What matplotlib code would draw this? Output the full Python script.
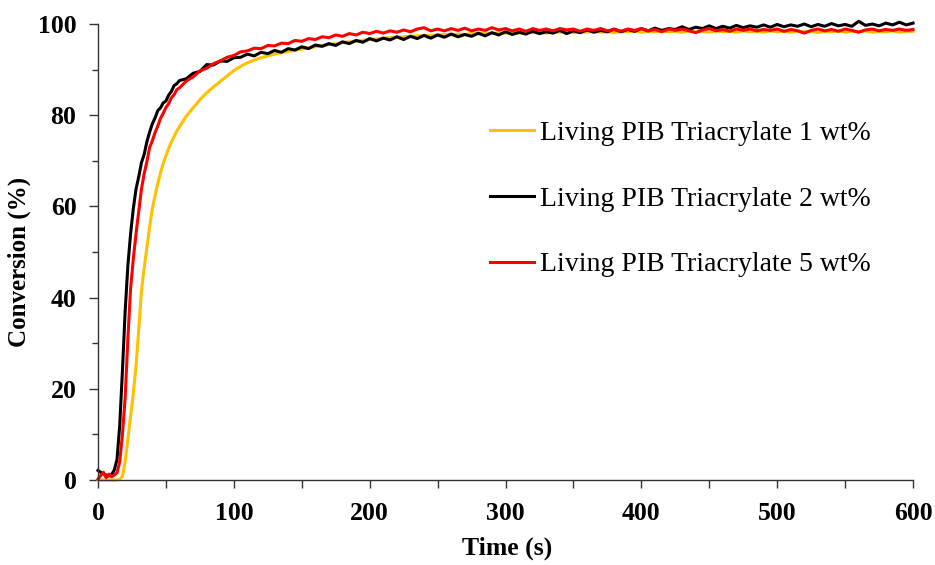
import matplotlib
matplotlib.use('Agg')
import matplotlib.pyplot as plt
from matplotlib.ticker import MultipleLocator

plt.rcParams['font.family'] = ['Liberation Serif', 'DejaVu Serif']

# time grid of the readings (s): every 2 s during the rise, every 5 s after
time_rise = list(range(0, 61, 2))
time_plat = list(range(65, 601, 5))
time = time_rise + time_plat

# conversion (%)
conv_1wt = [
    0.0, 0.0, 0.0, 0.0, 0.0, 0.0, 0.0, 0.0, 0.2, 0.8, 4.0, 9.0, 14.0, 19.0, 25.0, 33.0,
    41.5, 46.5, 51.0, 55.5, 59.5, 62.4, 65.0, 67.3, 69.4, 71.1, 72.7, 74.1, 75.3, 76.5, 77.5,
    79.8, 81.6, 83.4, 84.9, 86.2, 87.4, 88.6, 89.8, 90.7, 91.5, 92.1, 92.6, 93.0, 93.4, 93.7, 94.0,
    94.2, 94.5, 94.8, 95.0, 95.3, 95.5, 95.7, 95.9, 96.1, 96.2, 96.4, 96.6, 96.7, 96.9, 97.0, 97.1,
    97.2, 97.3, 97.4, 97.5, 97.5, 97.6, 97.7, 97.6, 97.8, 97.7, 97.9, 97.8, 98.0, 97.9, 98.1, 98.0,
    98.1, 98.0, 98.2, 98.1, 98.2, 98.0, 98.3, 98.2, 98.3, 98.1, 98.3, 98.2, 98.4, 98.2, 98.3, 98.1,
    98.4, 98.3, 98.4, 98.2, 98.4, 98.3, 98.5, 98.3, 98.4, 98.2, 98.5, 98.3, 98.4, 98.2, 98.5, 98.3,
    98.4, 98.2, 98.5, 98.3, 98.4, 98.2, 98.5, 98.3, 98.4, 98.2, 98.5, 98.3, 98.4, 98.1, 98.4, 98.3,
    98.5, 98.2, 98.4, 98.3, 98.5, 98.2, 98.4, 98.3, 98.5, 98.2, 98.4, 98.4,
]
conv_2wt = [
    2.1, 1.7, 1.3, 1.1, 0.9, 1.2, 2.2, 4.5, 12.0, 24.0, 37.0, 47.0, 54.0, 59.5, 63.8, 66.5,
    69.6, 71.4, 74.2, 76.3, 78.1, 79.4, 81.0, 81.6, 82.7, 83.1, 84.4, 85.2, 86.5, 86.9, 87.6,
    88.0, 89.2, 89.6, 91.1, 91.0, 91.9, 91.8, 92.6, 92.7, 93.4, 93.0, 93.8, 93.5, 94.2, 93.8, 94.6,
    94.3, 95.0, 94.6, 95.4, 95.1, 95.7, 95.3, 96.1, 95.7, 96.4, 96.0, 96.8, 96.3, 96.9, 96.5, 97.2,
    96.6, 97.3, 96.8, 97.5, 96.9, 97.6, 97.1, 97.8, 97.2, 97.7, 97.3, 98.0, 97.4, 98.1, 97.6, 98.3,
    97.7, 98.2, 97.8, 98.4, 97.9, 98.3, 98.0, 98.6, 97.9, 98.5, 98.1, 98.7, 98.2, 98.6, 98.3, 98.9,
    98.3, 98.8, 98.4, 99.0, 98.5, 99.1, 98.6, 99.0, 98.8, 99.4, 98.8, 99.3, 99.0, 99.6, 99.0, 99.5,
    99.1, 99.7, 99.2, 99.6, 99.3, 99.8, 99.3, 99.9, 99.4, 99.8, 99.5, 100.0, 99.4, 99.9, 99.5, 100.1,
    99.6, 99.9, 99.5, 100.6, 99.7, 100.0, 99.6, 100.2, 99.8, 100.4, 99.8, 100.2,
]
conv_5wt = [
    0.2, 1.0, 1.7, 0.5, 1.3, 0.7, 1.1, 1.6, 4.0, 10.0, 18.0, 31.0, 42.0, 48.5, 54.0, 59.0,
    63.8, 67.2, 69.8, 72.9, 74.4, 76.2, 77.6, 79.3, 80.4, 81.7, 82.5, 83.8, 84.5, 85.6, 86.0,
    87.5, 88.4, 89.7, 90.3, 91.3, 91.9, 92.7, 93.1, 93.9, 94.1, 94.7, 94.6, 95.3, 95.2, 95.8, 95.7,
    96.4, 96.2, 96.8, 96.6, 97.2, 97.0, 97.6, 97.3, 97.9, 97.6, 98.2, 97.9, 98.4, 98.0, 98.5, 98.2,
    98.7, 98.3, 98.9, 99.2, 98.5, 98.9, 98.5, 99.0, 98.6, 99.1, 98.5, 98.9, 98.6, 99.2, 98.7, 99.0,
    98.5, 98.9, 98.4, 99.0, 98.6, 98.9, 98.5, 99.0, 98.7, 98.9, 98.4, 98.9, 98.6, 99.0, 98.5, 98.8,
    98.4, 98.9, 98.6, 99.0, 98.5, 98.8, 98.3, 98.9, 98.6, 98.9, 98.5, 98.1, 98.7, 99.0, 98.5, 98.8,
    98.4, 98.9, 98.6, 98.9, 98.5, 98.8, 98.6, 98.9, 98.4, 98.8, 98.5, 98.0, 98.6, 98.9, 98.5, 98.8,
    98.4, 98.9, 98.6, 98.2, 98.7, 98.9, 98.5, 98.8, 98.6, 98.9, 98.6, 98.8,
]

labels = ['Living PIB Triacrylate 1 wt%', 'Living PIB Triacrylate 2 wt%',
          'Living PIB Triacrylate 5 wt%']
colors = ['#FFC000', '#000000', '#FF0000']

fig = plt.figure(figsize=(9.35, 5.65), dpi=100)
ax = fig.add_axes([0.1048, 0.1504, 0.8717, 0.8071])

for y, lab, c in zip([conv_1wt, conv_2wt, conv_5wt], labels, colors):
    ax.plot(time, y, color=c, lw=2.2, label=lab, clip_on=False)

ax.set_xlim(0, 600)
ax.set_ylim(0, 100)
ax.xaxis.set_major_locator(MultipleLocator(100))
ax.xaxis.set_minor_locator(MultipleLocator(50))
ax.yaxis.set_major_locator(MultipleLocator(20))
ax.yaxis.set_minor_locator(MultipleLocator(10))

for s in ['top', 'right']:
    ax.spines[s].set_visible(False)
for s in ['left', 'bottom']:
    ax.spines[s].set_color('#333333')
    ax.spines[s].set_linewidth(1.0)

ax.tick_params(axis='y', which='major', length=6.5, width=1, color='#333333', pad=9)
ax.tick_params(axis='y', which='minor', length=4, width=1, color='#333333')
ax.tick_params(axis='x', which='both', length=6, width=1, color='#333333')
ax.tick_params(axis='x', which='major', pad=10)
for t in ax.get_xticklabels() + ax.get_yticklabels():
    t.set_fontsize(18.5)
    t.set_fontweight('bold')

ax.set_xlabel('Time (s)', fontsize=18.5, fontweight='bold')
ax.set_ylabel('Conversion (%)', fontsize=18, fontweight='bold')
ax.xaxis.set_label_coords(0.502, -0.125)
ax.yaxis.set_label_coords(-0.082, 0.478)

ax.legend(loc='upper left', bbox_to_anchor=(0.524, 0.787), bbox_transform=fig.transFigure,
          frameon=False, fontsize=20, handlelength=1.6, handletextpad=0.2,
          labelspacing=1.45, borderpad=0, borderaxespad=0)

fig.savefig('out.png', dpi=100)
